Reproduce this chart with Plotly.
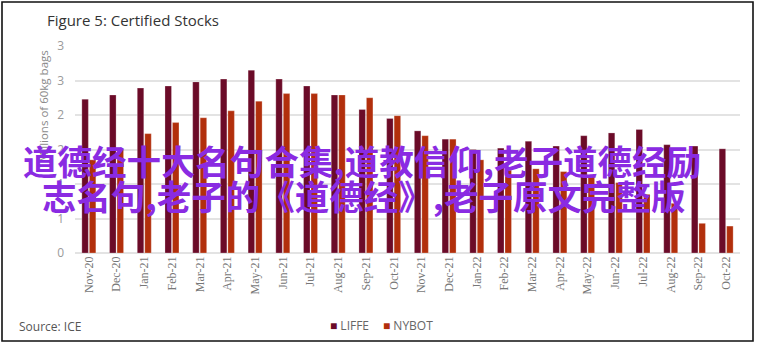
import plotly.graph_objects as go

# Certified stocks, millions of 60kg bags
months = ["Nov-20", "Dec-20", "Jan-21", "Feb-21", "Mar-21", "Apr-21", "May-21", "Jun-21",
          "Jul-21", "Aug-21", "Sep-21", "Oct-21", "Nov-21", "Dec-21", "Jan-22", "Feb-22",
          "Mar-22", "Apr-22", "May-22", "Jun-22", "Jul-22", "Aug-22", "Sep-22", "Oct-22"]
liffe = [2.23, 2.29, 2.39, 2.42, 2.48, 2.52, 2.65, 2.52, 2.42, 2.29, 2.08, 1.95,
         1.77, 1.65, 1.50, 1.52, 1.62, 1.55, 1.70, 1.74, 1.79, 1.57, 1.55, 1.51]
nybot = [1.35, 1.50, 1.73, 1.89, 1.96, 2.06, 2.20, 2.31, 2.31, 2.29, 2.25, 1.99,
         1.70, 1.65, 1.35, 1.20, 1.22, 1.18, 1.13, 1.02, 0.85, 0.72, 0.43, 0.39]

y_ticks = [0, 0.5, 1, 1.5, 2, 2.5, 3]
y_tick_text = ["0", "1", "1", "2", "2", "3", "3"]

LIFFE_COLOR = "#6b0b28"
NYBOT_COLOR = "#b22f0c"

W, H = 758, 345
ML, MR, MT, MB = 75, 18, 46, 92
PW, PH = W - ML - MR, H - MT - MB


def px_x(p):
    return (p - ML) / PW


def px_y(p):
    return (H - MB - p) / PH


fig = go.Figure()
fig.add_trace(go.Bar(x=months, y=liffe, name="LIFFE", marker_color=LIFFE_COLOR,
                     marker_line=dict(color="rgba(255,255,255,0.5)", width=0.5),
                     showlegend=False))
fig.add_trace(go.Bar(x=months, y=nybot, name="NYBOT", marker_color=NYBOT_COLOR,
                     marker_line=dict(color="rgba(255,255,255,0.5)", width=0.5),
                     showlegend=False))

banner_font = dict(family="Noto Sans CJK SC", size=34.5, color="#8a2be2", weight=700)

annotations = [
    dict(text="Figure 5: Certified Stocks", x=px_x(45), y=px_y(20), xref="paper", yref="paper",
         xanchor="left", yanchor="middle", showarrow=False,
         font=dict(family="Open Sans", size=15, color="#333333")),
    dict(text="Millions of 60kg bags", x=px_x(43), y=px_y(106), xref="paper", yref="paper",
         xanchor="center", yanchor="middle", textangle=-90, showarrow=False,
         font=dict(family="Open Sans", size=11.5, color="#8a8a8a")),
    dict(text="Source: ICE", x=px_x(17), y=px_y(326), xref="paper", yref="paper",
         xanchor="left", yanchor="middle", showarrow=False,
         font=dict(family="Open Sans", size=12, color="#555555")),
    dict(text=f"<span style='color:{LIFFE_COLOR}'>■</span> LIFFE", x=px_x(328), y=px_y(325),
         xref="paper", yref="paper", xanchor="left", yanchor="middle", showarrow=False,
         font=dict(family="Open Sans", size=12, color="#666666")),
    dict(text=f"<span style='color:{NYBOT_COLOR}'>■</span> NYBOT", x=px_x(381), y=px_y(325),
         xref="paper", yref="paper", xanchor="left", yanchor="middle", showarrow=False,
         font=dict(family="Open Sans", size=12, color="#666666")),
    dict(text="道德经十大名句合集,道教信仰,老子道德经励", x=px_x(362), y=px_y(160),
         xref="paper", yref="paper", xanchor="center", yanchor="middle", showarrow=False,
         font=banner_font),
    dict(text="志名句,老子的《道德经》,老子原文完整版", x=px_x(363), y=px_y(195),
         xref="paper", yref="paper", xanchor="center", yanchor="middle", showarrow=False,
         font=banner_font),
]

fig.update_layout(
    width=W, height=H,
    margin=dict(l=ML, r=MR, t=MT, b=MB),
    paper_bgcolor="white", plot_bgcolor="white",
    barmode="group", bargap=0.46, bargroupgap=0.13,
    annotations=annotations,
    shapes=[dict(type="rect", xref="paper", yref="paper",
                 x0=px_x(2), x1=px_x(753), y0=px_y(341), y1=px_y(2),
                 line=dict(color="#111111", width=1.6), layer="above")],
)
fig.update_xaxes(
    type="category", range=[-0.5, len(months) - 0.5],
    tickangle=-90, showgrid=False, showline=False, ticks="",
    tickfont=dict(family="Liberation Sans Narrow", size=12, color="#777777"),
)
fig.update_yaxes(
    range=[0, 3], tickvals=y_ticks, ticktext=y_tick_text,
    showgrid=True, gridcolor="#e3e3e3", gridwidth=2,
    zeroline=True, zerolinecolor="#e3e3e3", zerolinewidth=2,
    showline=False, ticks="", ticklabelstandoff=10,
    tickfont=dict(family="Open Sans", size=12, color="#9a9a9a"),
)

fig.write_html("out.html")
